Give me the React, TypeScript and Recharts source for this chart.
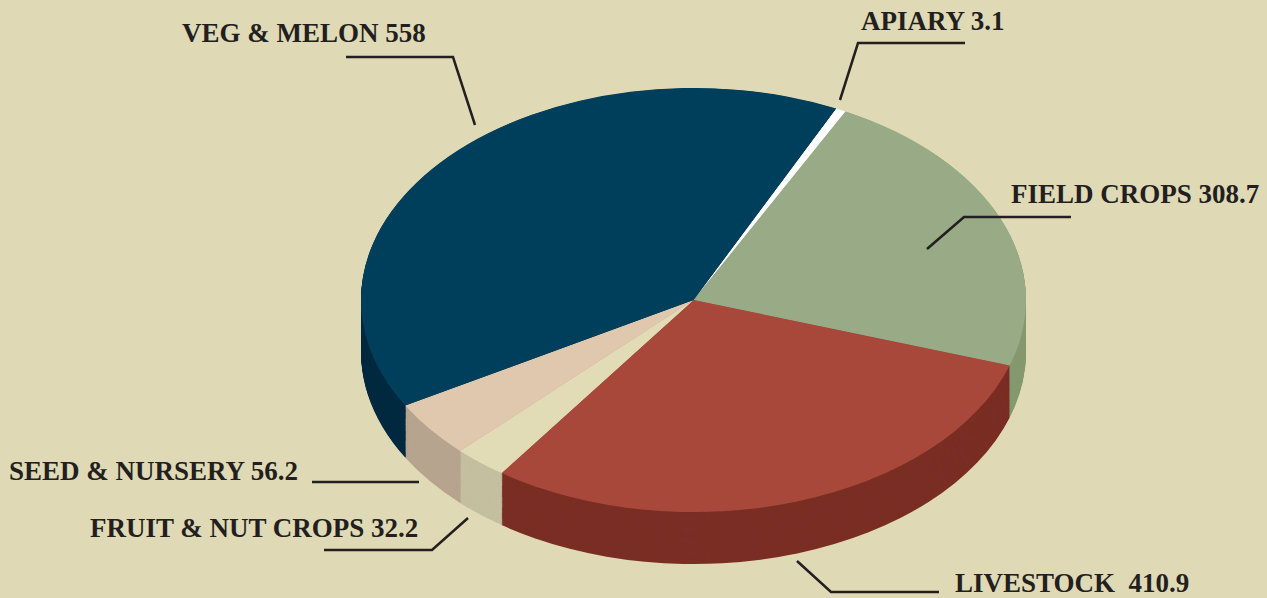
import { PieChart, Pie, Cell } from "recharts";

// crop values (clockwise from the top)
const NAMES = ["APIARY", "FIELD CROPS", "LIVESTOCK", "FRUIT & NUT CROPS", "SEED & NURSERY", "VEG & MELON"];
const VALUES = [3.1, 308.7, 410.9, 32.2, 56.2, 558];
const LABELS = ["APIARY 3.1", "FIELD CROPS 308.7", "LIVESTOCK\u00a0 410.9", "FRUIT & NUT CROPS 32.2", "SEED & NURSERY 56.2", "VEG & MELON 558"];

const TOP_COLORS = ["#ffffff", "#98aa86", "#a8483a", "#e2dcb6", "#e0c8ae", "#003f5b"];
const SIDE_COLORS = ["#d9d9d9", "#86996f", "#7a2e24", "#c4bf9f", "#b7a48f", "#002a40"];

const data = NAMES.map((name, i) => ({ name, value: VALUES[i], label: LABELS[i] }));

// layout
const W = 1267;
const H = 598;
const CX = 693.5;
const CY = 300;
const RX = 332.5;
const RY = 212;
const K = RY / RX;
const DEPTH = 52 / K;
const START = 64.6;
const Y0 = 360; // pie centre inside the (unscaled) chart
const BG = "#dfdab5";
const INK = "#231f20";

// leader lines and label positions (screen px)
const LEADERS: { pts: number[][]; tx: number; ty: number }[] = [
  { pts: [[840, 100], [858, 43], [965, 43]], tx: 861, ty: 30 },
  { pts: [[927, 249], [964, 217], [1071, 217]], tx: 1011, ty: 203 },
  { pts: [[797, 561], [831, 592], [939, 592]], tx: 955, ty: 592 },
  { pts: [[468, 518], [432, 550], [324, 550]], tx: 90, ty: 537 },
  { pts: [[419, 482], [312, 482]], tx: 9, ty: 480 },
  { pts: [[475, 125], [453, 57], [346, 57]], tx: 182, ty: 42 },
];

const layers: number[] = [];
for (let d = DEPTH; d > 0; d -= 1.5) layers.push(d);

const renderLabel = (props: any) => {
  const l = LEADERS[props.index];
  if (!l) return null;
  return (
    <g key={`lbl-${props.index}`}>
      <polyline
        points={l.pts.map((p) => p.join(",")).join(" ")}
        fill="none"
        stroke={INK}
        strokeWidth={2.5}
      />
      <text
        x={l.tx}
        y={l.ty}
        fill={INK}
        fontSize={27}
        fontWeight="bold"
        fontFamily="'Liberation Serif', 'DejaVu Serif', serif"
        style={{ whiteSpace: "pre" }}
      >
        {data[props.index].label}
      </text>
    </g>
  );
};

export default function App() {
  return (
    <div style={{ position: "relative", width: W, height: H, background: BG, overflow: "hidden" }}>
      <style>{`body{margin:0}`}</style>
      <div
        style={{
          position: "absolute",
          left: 0,
          top: CY - Y0,
          transform: `scaleY(${K})`,
          transformOrigin: `0px ${Y0}px`,
        }}
      >
        <PieChart width={W} height={820} margin={{ top: 0, right: 0, bottom: 0, left: 0 }}>
          {layers.map((d) => (
            <Pie
              key={`side-${d}`}
              data={data}
              dataKey="value"
              cx={CX}
              cy={Y0 + d}
              outerRadius={RX}
              startAngle={START}
              endAngle={START - 360}
              minAngle={1}
              stroke="none"
              isAnimationActive={false}
            >
              {data.map((_, i) => (
                <Cell key={i} fill={SIDE_COLORS[i]} />
              ))}
            </Pie>
          ))}
          <Pie
            data={data}
            dataKey="value"
            cx={CX}
            cy={Y0}
            outerRadius={RX}
            startAngle={START}
            endAngle={START - 360}
            minAngle={1}
            stroke="none"
            isAnimationActive={false}
          >
            {data.map((_, i) => (
              <Cell key={i} fill={TOP_COLORS[i]} />
            ))}
          </Pie>
        </PieChart>
      </div>
      <div style={{ position: "absolute", left: 0, top: 0 }}>
        <PieChart width={W} height={H} margin={{ top: 0, right: 0, bottom: 0, left: 0 }}>
          <Pie
            data={data}
            dataKey="value"
            cx={CX}
            cy={CY}
            outerRadius={1}
            startAngle={START}
            endAngle={START - 360}
            fill="none"
            stroke="none"
            labelLine={false}
            label={renderLabel}
            isAnimationActive={false}
          />
        </PieChart>
      </div>
    </div>
  );
}
